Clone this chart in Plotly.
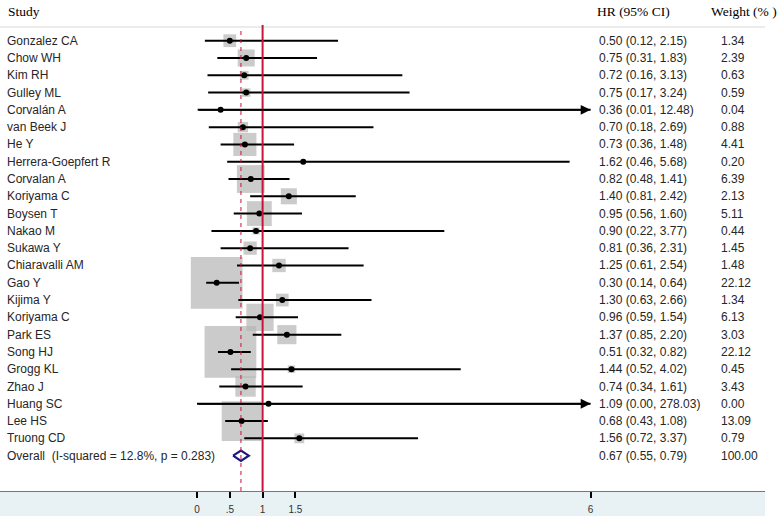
import math
import plotly.graph_objects as go

studies = ["Gonzalez CA", "Chow WH", "Kim RH", "Gulley ML", "Corvalán A", "van Beek J",
           "He Y", "Herrera-Goepfert R", "Corvalan A", "Koriyama C", "Boysen T", "Nakao M",
           "Sukawa Y", "Chiaravalli AM", "Gao Y", "Kijima Y", "Koriyama C", "Park ES",
           "Song HJ", "Grogg KL", "Zhao J", "Huang SC", "Lee HS", "Truong CD"]
hr = [0.50, 0.75, 0.72, 0.75, 0.36, 0.70, 0.73, 1.62, 0.82, 1.40, 0.95, 0.90,
      0.81, 1.25, 0.30, 1.30, 0.96, 1.37, 0.51, 1.44, 0.74, 1.09, 0.68, 1.56]
lo = [0.12, 0.31, 0.16, 0.17, 0.01, 0.18, 0.36, 0.46, 0.48, 0.81, 0.56, 0.22,
      0.36, 0.61, 0.14, 0.63, 0.59, 0.85, 0.32, 0.52, 0.34, 0.00, 0.43, 0.72]
hi = [2.15, 1.83, 3.13, 3.24, 12.48, 2.69, 1.48, 5.68, 1.41, 2.42, 1.60, 3.77,
      2.31, 2.54, 0.64, 2.66, 1.54, 2.20, 0.82, 4.02, 1.61, 278.03, 1.08, 3.37]
weights = [1.34, 2.39, 0.63, 0.59, 0.04, 0.88, 4.41, 0.20, 6.39, 2.13, 5.11, 0.44,
           1.45, 1.48, 22.12, 1.34, 6.13, 3.03, 22.12, 0.45, 3.43, 0.00, 13.09, 0.79]
overall_label = "Overall  (I-squared = 12.8%, p = 0.283)"
overall_hr, overall_lo, overall_hi, overall_wt = 0.67, 0.55, 0.79, 100.00
tick_vals = [0, 0.5, 1, 1.5, 6]
tick_text = ["0", ".5", "1", "1.5", "6"]
x_max = 6

W, H = 778, 516
BOTTOM = 25
plot_h = H - BOTTOM
ROW0, ROWH = 40.7, 17.29
X0, XU = 197.0, 65.6
xdom = 765 / W

def px_to_y(p):
    return (p - ROW0) / ROWH

def px_to_x(p):
    return (p - X0) / XU

rows = list(range(len(studies)))
overall_row = len(studies)

fig = go.Figure()

# weight boxes
fig.add_trace(go.Scatter(
    x=hr, y=rows, mode="markers",
    marker=dict(symbol="square", size=[11 * math.sqrt(w) for w in weights],
                color="#b5b5b5", line=dict(width=0)),
    hoverinfo="skip", showlegend=False))

# CI lines
cx, cy = [], []
for r, l, h in zip(rows, lo, hi):
    cx += [l, min(h, x_max), None]
    cy += [r, r, None]
fig.add_trace(go.Scatter(x=cx, y=cy, mode="lines",
                         line=dict(color="black", width=2),
                         hoverinfo="skip", showlegend=False))

# point estimates
fig.add_trace(go.Scatter(x=hr, y=rows, mode="markers",
                         marker=dict(symbol="circle", size=6, color="black"),
                         hoverinfo="skip", showlegend=False))

# overall diamond
dh = 0.3
fig.add_trace(go.Scatter(
    x=[overall_lo, overall_hr, overall_hi, overall_hr, overall_lo],
    y=[overall_row, overall_row - dh, overall_row, overall_row + dh, overall_row],
    mode="lines", line=dict(color="#1a1a80", width=2.2),
    hoverinfo="skip", showlegend=False))

shapes = []
# bottom band
shapes.append(dict(type="rect", xref="paper", yref="paper", x0=0, x1=xdom,
                   y0=-BOTTOM / plot_h, y1=0, fillcolor="#e8f1f4",
                   line=dict(width=0), layer="below"))
# header line
shapes.append(dict(type="line", xref="paper", yref="y", x0=0, x1=xdom,
                   y0=px_to_y(27), y1=px_to_y(27),
                   line=dict(color="#d8d8d8", width=1)))
# null line
shapes.append(dict(type="line", xref="x", yref="y", x0=1, x1=1,
                   y0=px_to_y(25), y1=px_to_y(plot_h),
                   line=dict(color="#c8143c", width=2)))
# overall dashed line
shapes.append(dict(type="line", xref="x", yref="y", x0=overall_hr, x1=overall_hr,
                   y0=px_to_y(31), y1=px_to_y(plot_h),
                   line=dict(color="#c8143c", width=1, dash="4px,4px")))

annotations = []
hdr_y = px_to_y(11)
hfont = dict(family="Liberation Serif", size=13.5, color="black")
annotations.append(dict(xref="paper", yref="y", x=6 / W, y=hdr_y, text="Study",
                        showarrow=False, xanchor="left", yanchor="middle", font=hfont))
annotations.append(dict(xref="paper", yref="y", x=595 / W, y=hdr_y, text="HR (95% CI)",
                        showarrow=False, xanchor="left", yanchor="middle", font=hfont))
annotations.append(dict(xref="paper", yref="y", x=709 / W, y=hdr_y, text="Weight (% )",
                        showarrow=False, xanchor="left", yanchor="middle", font=hfont))

tfont = dict(family="Liberation Sans", size=12, color="#262626")
labels = studies + [overall_label]
hr_txt = [f"{a:.2f} ({b:.2f}, {c:.2f})" for a, b, c in zip(hr, lo, hi)] + \
         [f"{overall_hr:.2f} ({overall_lo:.2f}, {overall_hi:.2f})"]
wt_txt = [f"{w:.2f}" for w in weights] + [f"{overall_wt:.2f}"]
for r, (lab, ht, wt) in enumerate(zip(labels, hr_txt, wt_txt)):
    annotations.append(dict(xref="paper", yref="y", x=5 / W, y=r, text=lab,
                            showarrow=False, xanchor="left", yanchor="middle", font=tfont))
    annotations.append(dict(xref="paper", yref="y", x=597 / W, y=r, text=ht,
                            showarrow=False, xanchor="left", yanchor="middle", font=tfont))
    annotations.append(dict(xref="paper", yref="y", x=719 / W, y=r, text=wt,
                            showarrow=False, xanchor="left", yanchor="middle", font=tfont))

# arrows for truncated CIs
for r, l, h in zip(rows, lo, hi):
    if h > x_max:
        annotations.append(dict(x=x_max, y=r, xref="x", yref="y",
                                ax=l, ay=r, axref="x", ayref="y", text="",
                                showarrow=True, arrowhead=2, arrowsize=1.1,
                                arrowwidth=1.8, arrowcolor="black", standoff=0))

fig.update_layout(
    width=W, height=H,
    margin=dict(l=0, r=0, t=0, b=BOTTOM, pad=0),
    paper_bgcolor="white", plot_bgcolor="white",
    showlegend=False,
    shapes=shapes, annotations=annotations,
    xaxis=dict(domain=[0, xdom], range=[px_to_x(0), px_to_x(765)],
               showgrid=False, zeroline=False, showline=True,
               linecolor="#ff3b3b", linewidth=1.2,
               ticks="outside", ticklen=6, tickwidth=1.5, tickcolor="black",
               tickvals=tick_vals, ticktext=tick_text, ticklabelstandoff=3,
               tickfont=dict(family="Liberation Sans", size=10, color="#333")),
    yaxis=dict(range=[px_to_y(plot_h), px_to_y(0)], visible=False,
               showgrid=False, zeroline=False),
)

fig.write_html("out.html", config={"displayModeBar": False},
               post_script="document.body.style.margin='0px';document.body.style.overflow='hidden';")
